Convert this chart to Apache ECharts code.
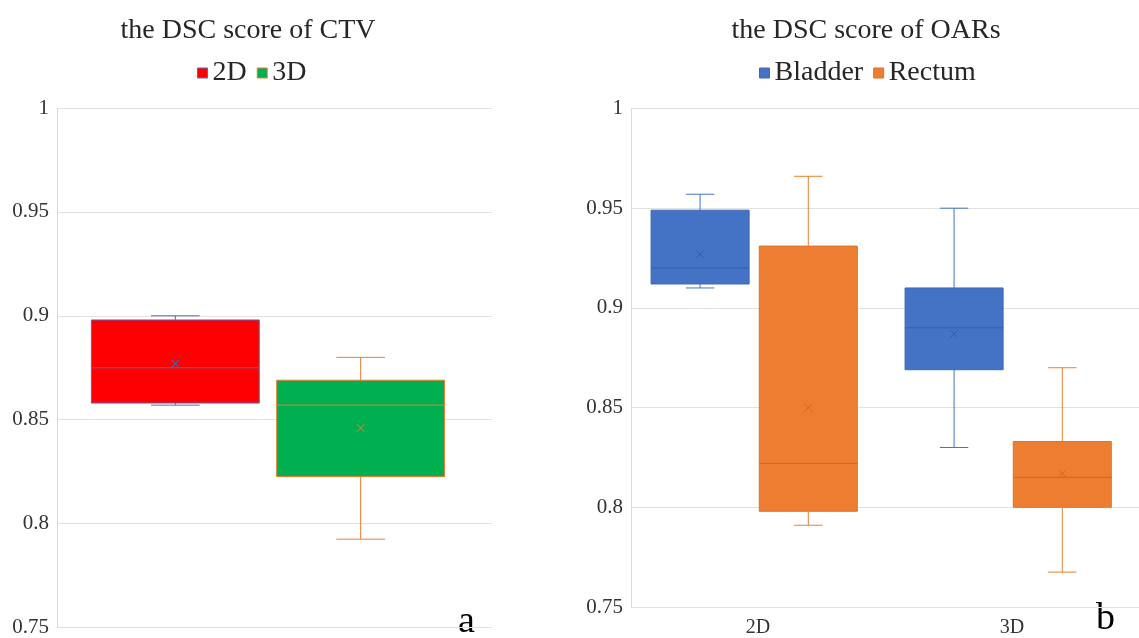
<!DOCTYPE html>
<html>
<head>
<meta charset="utf-8">
<script src="https://cdn.jsdelivr.net/npm/echarts@6/dist/echarts.min.js"></script>
<style>
  html, body { margin: 0; padding: 0; background: #ffffff; }
  #chart { width: 1139px; height: 638px; }
</style>
</head>
<body>
<div id="chart"></div>
<script>
// Box summaries, each as [min, Q1, median, Q3, max, mean]
const ctvGroups = ['2D', '3D'];
const ctv2D = [0.857, 0.858, 0.875, 0.898, 0.900, 0.877];
const ctv3D = [0.7925, 0.8226, 0.857, 0.869, 0.880, 0.846];

const oarCategories = ['2D', '3D'];
const oarOrgans = ['Bladder', 'Rectum'];
const bladder2D = [0.910, 0.912, 0.920, 0.949, 0.957, 0.927];
const bladder3D = [0.830, 0.869, 0.890, 0.910, 0.950, 0.887];
const rectum2D = [0.791, 0.798, 0.822, 0.931, 0.966, 0.850];
const rectum3D = [0.7675, 0.800, 0.815, 0.833, 0.870, 0.817];

// value axis ticks: 0.75, 0.8, ... 1
const yTickMin = 0.75;
const yTickMax = 1;
const yTickStep = 0.05;

const FONT = '"Liberation Serif", "Times New Roman", serif';
const TEXT = '#262626';

// Excel-like box: whiskers with short caps, filled box, median line and a mean cross
function drawBox(api, look) {
  const cat = api.value(0);
  const band = api.size([1, 0])[0];
  const center = api.coord([cat, api.value(3)])[0];
  const cx = center + look.offset * band;
  const w = look.width * band;
  const capHalf = w * 0.145;
  const y = (i) => api.coord([cat, api.value(i)])[1];
  const yMin = y(1), yQ1 = y(2), yMed = y(3), yQ3 = y(4), yMax = y(5), yMean = y(6);
  const seg = (x1, y1, x2, y2, color) => ({
    type: 'line',
    shape: { x1: x1, y1: y1, x2: x2, y2: y2 },
    style: { stroke: color, lineWidth: 1 }
  });
  const m = 3.8;
  return {
    type: 'group',
    children: [
      seg(cx, yMax, cx, yQ3, look.whisker),
      seg(cx, yQ1, cx, yMin, look.whisker),
      seg(cx - capHalf, yMax, cx + capHalf, yMax, look.whisker),
      seg(cx - capHalf, yMin, cx + capHalf, yMin, look.whisker),
      {
        type: 'rect',
        shape: { x: cx - w / 2, y: yQ3, width: w, height: yQ1 - yQ3 },
        style: { fill: look.fill, stroke: look.border, lineWidth: 1 }
      },
      seg(cx - w / 2, yMed, cx + w / 2, yMed, look.median),
      seg(cx - m, yMean - m, cx + m, yMean + m, look.mean),
      seg(cx - m, yMean + m, cx + m, yMean - m, look.mean)
    ]
  };
}

const LEFT_OFFSET = -0.228;
const RIGHT_OFFSET = 0.198;
const BOX_WIDTH = 0.386;

const looks = {
  '2D': { offset: LEFT_OFFSET, width: BOX_WIDTH, fill: '#FF0000', border: '#4472C4', median: '#4472C4', whisker: '#4472C4', mean: '#4472C4' },
  '3D': { offset: RIGHT_OFFSET, width: BOX_WIDTH, fill: '#00B050', border: '#ED7D31', median: '#ED7D31', whisker: '#ED7D31', mean: '#ED7D31' },
  'Bladder': { offset: LEFT_OFFSET, width: BOX_WIDTH, fill: '#4472C4', border: '#3E68B5', median: '#3560A8', whisker: '#4472C4', mean: '#3560A8' },
  'Rectum': { offset: RIGHT_OFFSET, width: BOX_WIDTH, fill: '#ED7D31', border: '#E07228', median: '#D4661F', whisker: '#ED7D31', mean: '#D4661F' }
};

function boxSeries(name, axisIndex, rows) {
  return {
    type: 'custom',
    name: name,
    xAxisIndex: axisIndex,
    yAxisIndex: axisIndex,
    itemStyle: { color: looks[name].fill },
    encode: { x: 0, y: [1, 2, 3, 4, 5, 6] },
    data: rows.map((r, i) => [i].concat(r)),
    renderItem: (params, api) => drawBox(api, looks[name])
  };
}

function valueAxis(gridIndex) {
  return {
    type: 'value',
    gridIndex: gridIndex,
    min: yTickMin,
    max: yTickMax,
    interval: yTickStep,
    axisLine: { show: true, lineStyle: { color: '#d9d9d9', width: 1 } },
    axisTick: { show: false },
    axisLabel: { fontFamily: FONT, fontSize: 21, color: '#333333', margin: 8 },
    splitLine: { show: true, lineStyle: { color: '#e2e2e2', width: 1 } }
  };
}

function legendFor(names, left) {
  return {
    left: left,
    top: 54,
    icon: 'rect',
    itemWidth: 10,
    itemHeight: 10,
    itemGap: 10,
    selectedMode: false,
    textStyle: { fontFamily: FONT, fontSize: 28, color: TEXT },
    data: names.map((n) => ({
      name: n,
      itemStyle: { color: looks[n].fill, borderColor: looks[n].border, borderWidth: 1 }
    }))
  };
}

const chart = echarts.init(document.getElementById('chart'), null, { renderer: 'canvas' });

chart.setOption({
  animation: false,
  backgroundColor: '#ffffff',
  title: [
    {
      text: 'the DSC score of CTV',
      left: 243, top: 12, textAlign: 'center',
      textStyle: { fontFamily: FONT, fontSize: 28, fontWeight: 'normal', color: TEXT }
    },
    {
      text: 'the DSC score of OARs',
      left: 861, top: 12, textAlign: 'center',
      textStyle: { fontFamily: FONT, fontSize: 28, fontWeight: 'normal', color: TEXT }
    }
  ],
  legend: [legendFor(ctvGroups, 192), legendFor(oarOrgans, 754)],
  grid: [
    { left: 57, right: 647, top: 108, bottom: 10.5 },
    { left: 631, right: -8, top: 108.5, bottom: 30.7 }
  ],
  xAxis: [
    {
      type: 'category', gridIndex: 0, data: ['CTV'],
      axisLine: { show: false }, axisTick: { show: false }, axisLabel: { show: false }
    },
    {
      type: 'category', gridIndex: 1, data: oarCategories,
      axisLine: { show: false }, axisTick: { show: false },
      axisLabel: { fontFamily: FONT, fontSize: 20, color: '#333333', margin: 11 }
    }
  ],
  yAxis: [valueAxis(0), valueAxis(1)],
  graphic: [
    { type: 'text', left: 458, top: 603, style: { text: 'a', font: '38px "Liberation Serif"', fill: '#000000' } },
    { type: 'text', left: 1096, top: 600, style: { text: 'b', font: '38px "Liberation Serif"', fill: '#000000' } }
  ],
  series: [
    boxSeries('2D', 0, [ctv2D]),
    boxSeries('3D', 0, [ctv3D]),
    boxSeries('Bladder', 1, [bladder2D, bladder3D]),
    boxSeries('Rectum', 1, [rectum2D, rectum3D])
  ]
});
</script>
</body>
</html>
